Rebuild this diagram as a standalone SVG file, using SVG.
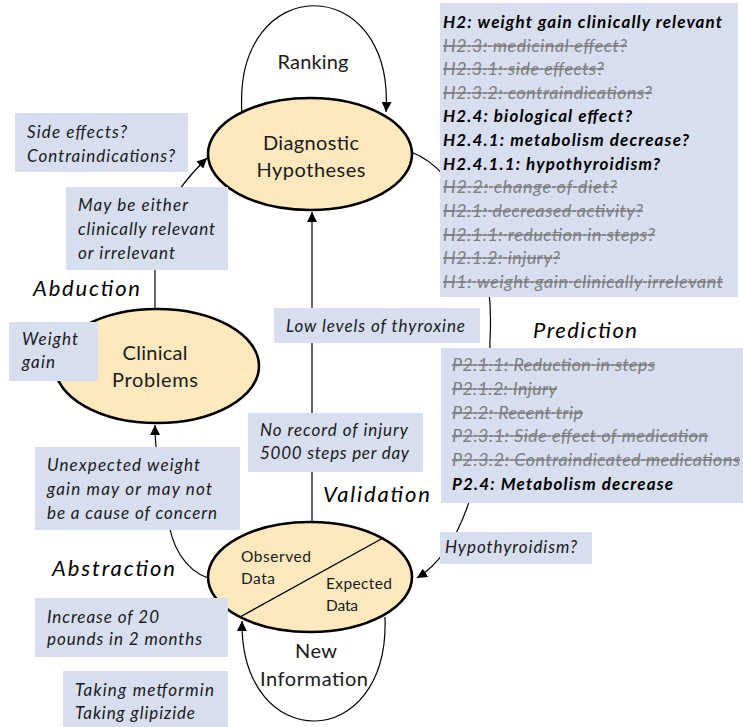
<svg xmlns="http://www.w3.org/2000/svg" width="743" height="727" viewBox="0 0 743 727">
<defs>
<marker id="arr" markerUnits="userSpaceOnUse" markerWidth="12" markerHeight="10" refX="10" refY="5" orient="auto">
<path d="M0,0 L10,5 L0,10 Z" fill="#000"/>
</marker>
<style>
.node{fill:#FDE9BD;stroke:#000;stroke-width:2.6}
.box{fill:#D6DEEF}
.con{fill:none;stroke:#000;stroke-width:1.2}
.lbl{font-family:Lato,"Liberation Sans",sans-serif;font-size:20px;fill:#1a1a1a}
.sm{font-family:Lato,"Liberation Sans",sans-serif;font-size:15.5px;fill:#1a1a1a}
.it{font-family:Lato,"Liberation Sans",sans-serif;font-size:17px;font-style:italic;fill:#1a1a1a}
.ph{font-family:Lato,"Liberation Sans",sans-serif;font-size:22px;font-style:italic;fill:#000}
.lb{font-family:Lato,"Liberation Sans",sans-serif;font-size:17px;font-style:italic;font-weight:bold;fill:#000}
.lg{font-family:Lato,"Liberation Sans",sans-serif;font-size:17.8px;font-style:italic;fill:#7f7f7f;text-decoration:line-through}
</style>
</defs>
<rect width="743" height="727" fill="#fff"/>

<g id="connectors">
<path class="con" d="M242,114 C232,-30 395,-30 386,112" marker-end="url(#arr)"/>
<path class="con" d="M155,309 L155,265 C158,220 172,192 207,158" marker-end="url(#arr)"/>
<path class="con" d="M208,578 C185,570 170,545 168,515 C166,480 155,470 155,425" marker-end="url(#arr)"/>
<path class="con" d="M312,522 L312,212" marker-end="url(#arr)"/>
<path class="con" d="M411,152 C460,170 495,250 490,340 C490,450 470,545 417,578" marker-end="url(#arr)"/>
<path class="con" d="M385,617 C390,755 240,755 242,621" marker-end="url(#arr)"/>
</g>

<g id="diagnostic-hypotheses">
<ellipse class="node" cx="310" cy="154" rx="102" ry="56"/>
<text class="lbl" x="311" y="150" text-anchor="middle" textLength="96">Diagnostic</text>
<text class="lbl" x="311" y="177" text-anchor="middle" textLength="109">Hypotheses</text>
</g>

<g id="clinical-problems">
<ellipse class="node" cx="157" cy="366" rx="102" ry="57"/>
<text class="lbl" x="155" y="360" text-anchor="middle" textLength="65">Clinical</text>
<text class="lbl" x="155" y="387" text-anchor="middle" textLength="86">Problems</text>
</g>

<g id="data">
<ellipse class="node" cx="310" cy="577" rx="102" ry="55"/>
<line x1="240" y1="617" x2="383" y2="538" stroke="#000" stroke-width="1.4"/>
<text class="sm" x="241" y="562" textLength="70">Observed</text>
<text class="sm" x="241" y="584" textLength="34">Data</text>
<text class="sm" x="326" y="589" textLength="66">Expected</text>
<text class="sm" x="326" y="611" textLength="32">Data</text>
</g>

<g id="loop-labels">
<text class="lbl" x="313" y="69" text-anchor="middle" font-size="18" textLength="71">Ranking</text>
<text class="lbl" x="316" y="658" text-anchor="middle" font-size="19" textLength="42">New</text>
<text class="lbl" x="314" y="686" text-anchor="middle" font-size="19" textLength="108">Information</text>
</g>

<g id="phases">
<text class="ph" x="33" y="296" textLength="107">Abduction</text>
<text class="ph" x="533" y="338" textLength="104">Prediction</text>
<text class="ph" x="323" y="502" textLength="107">Validation</text>
<text class="ph" x="52" y="576" textLength="123">Abstraction</text>
</g>

<g id="box-side-effects">
<rect class="box" x="15" y="113" width="173" height="59"/>
<text class="it" x="27" y="138" textLength="100">Side effects?</text>
<text class="it" x="27" y="162" textLength="148">Contraindications?</text>
</g>

<g id="box-may-be">
<rect class="box" x="66" y="187" width="162" height="83"/>
<text class="it" x="78" y="211" textLength="110">May be either</text>
<text class="it" x="78" y="235" textLength="137">clinically relevant</text>
<text class="it" x="78" y="259" textLength="97">or irrelevant</text>
</g>

<g id="box-weight-gain">
<rect class="box" x="9" y="322" width="89" height="59"/>
<text class="it" x="22" y="345" textLength="56">Weight</text>
<text class="it" x="22" y="368" textLength="33">gain</text>
</g>

<g id="box-unexpected">
<rect class="box" x="35" y="447" width="205" height="83"/>
<text class="it" x="47" y="471" textLength="153">Unexpected weight</text>
<text class="it" x="47" y="495" textLength="165">gain may or may not</text>
<text class="it" x="47" y="519" textLength="170">be a cause of concern</text>
</g>

<g id="box-increase">
<rect class="box" x="35" y="598" width="193" height="59"/>
<text class="it" x="47" y="623" textLength="112">Increase of 20</text>
<text class="it" x="47" y="645" textLength="155">pounds in 2 months</text>
</g>

<g id="box-taking">
<rect class="box" x="63" y="671" width="165" height="56"/>
<text class="it" x="75" y="696" textLength="139">Taking metformin</text>
<text class="it" x="75" y="719" textLength="120">Taking glipizide</text>
</g>

<g id="box-thyroxine">
<rect class="box" x="274" y="308" width="206" height="35"/>
<text class="it" x="286" y="332" textLength="179">Low levels of thyroxine</text>
</g>

<g id="box-no-record">
<rect class="box" x="248" y="413" width="175" height="59"/>
<text class="it" x="260" y="436" textLength="148">No record of injury</text>
<text class="it" x="260" y="459" textLength="149">5000 steps per day</text>
</g>

<g id="box-hypothyroidism">
<rect class="box" x="440" y="532" width="152" height="32"/>
<text class="it" x="445" y="553" textLength="132">Hypothyroidism?</text>
</g>

<g id="box-hypotheses">
<rect class="box" x="440" y="3" width="298" height="294"/>
<text class="lb" x="443" y="28" textLength="279">H2: weight gain clinically relevant</text>
<text class="lg" x="443" y="52" textLength="184">H2.3: medicinal effect?</text>
<text class="lg" x="443" y="75" textLength="161">H2.3.1: side effects?</text>
<text class="lg" x="443" y="99" textLength="209">H2.3.2: contraindications?</text>
<text class="lb" x="443" y="122" textLength="189">H2.4: biological effect?</text>
<text class="lb" x="443" y="146" textLength="246">H2.4.1: metabolism decrease?</text>
<text class="lb" x="443" y="170" textLength="217">H2.4.1.1: hypothyroidism?</text>
<text class="lg" x="443" y="193" textLength="174">H2.2: change of diet?</text>
<text class="lg" x="443" y="217" textLength="200">H2.1: decreased activity?</text>
<text class="lg" x="443" y="241" textLength="212">H2.1.1: reduction in steps?</text>
<text class="lg" x="443" y="264" textLength="117">H2.1.2: injury?</text>
<text class="lg" x="443" y="288" textLength="280">H1: weight gain clinically irrelevant</text>
</g>

<g id="box-predictions">
<rect class="box" x="441" y="348" width="302" height="155"/>
<text class="lg" x="452" y="371" textLength="203">P2.1.1: Reduction in steps</text>
<text class="lg" x="452" y="395" textLength="105">P2.1.2: Injury</text>
<text class="lg" x="452" y="419" textLength="131">P2.2: Recent trip</text>
<text class="lg" x="452" y="442" textLength="256">P2.3.1: Side effect of medication</text>
<text class="lg" x="452" y="466" textLength="288">P2.3.2: Contraindicated medications</text>
<text class="lb" x="452" y="490" textLength="221">P2.4: Metabolism decrease</text>
</g>
</svg>
